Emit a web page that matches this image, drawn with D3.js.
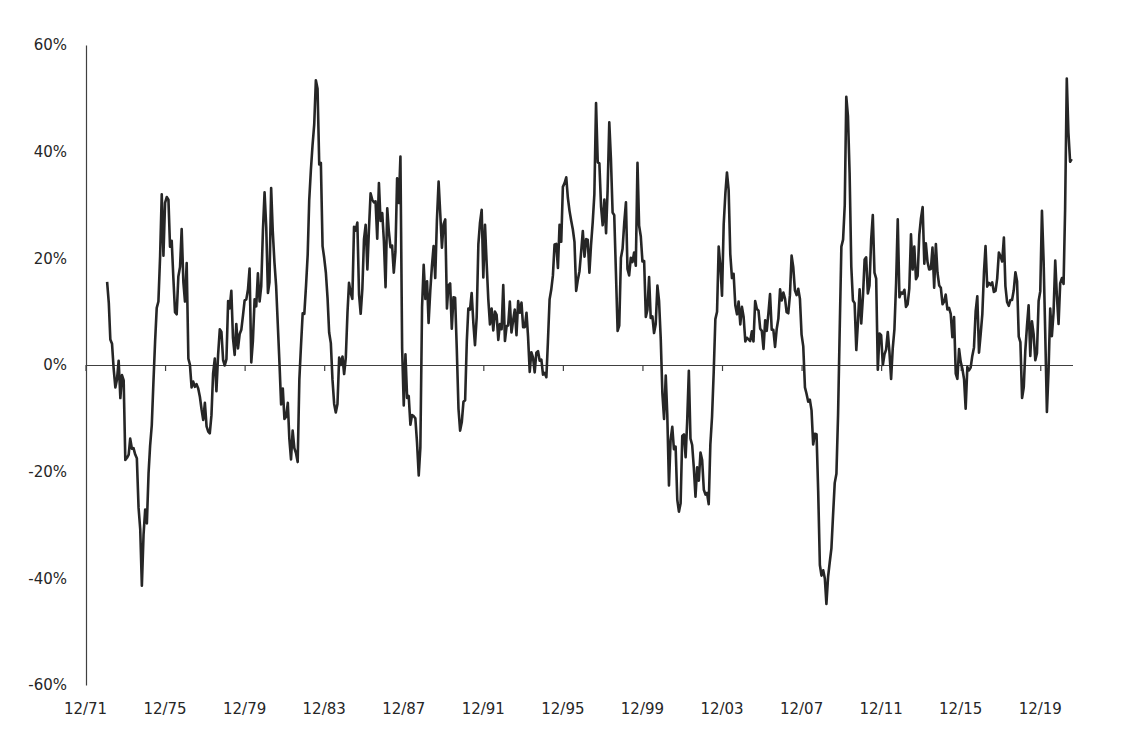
<!DOCTYPE html>
<html><head><meta charset="utf-8">
<script src="https://cdn.jsdelivr.net/npm/d3@7"></script>
<style>html,body{margin:0;padding:0;background:#fff;} svg{display:block;} text{font-family:"DejaVu Sans",Verdana,sans-serif;}</style>
</head><body><svg id="chart" width="1126" height="746"></svg>
<script>
// First observation: trailing 12-month return at month-end December 1972
const firstMonth = "1972-12";
// Trailing 12-month return, %, one value per month
const returns = [
15.6,
11.6,4.8,4.0,-0.7,-4.2,-2.7,0.8,-6.2,-1.9,-2.9,-17.8,-17.4,
-16.8,-13.8,-15.7,-15.6,-16.8,-17.5,-26.7,-30.8,-41.4,-31.8,-27.1,-29.7,
-20.3,-15.2,-11.3,-3.3,4.4,10.7,11.9,20.4,32.0,20.5,30.4,31.5,
31.0,22.2,23.3,16.4,9.9,9.5,16.6,18.4,25.5,15.6,11.9,19.1,
1.2,0.1,-4.2,-3.1,-4.1,-3.6,-4.4,-6.0,-8.3,-10.3,-7.1,-11.5,
-12.5,-12.8,-9.4,-1.6,1.2,-4.9,1.9,6.7,6.2,0.9,-0.1,1.1,
12.0,10.6,13.9,5.1,1.9,7.7,3.1,5.8,6.6,9.3,12.1,12.3,
14.2,18.1,0.5,4.5,12.3,11.0,17.2,11.9,14.8,25.2,32.4,25.8,
13.5,15.5,33.2,25.0,19.2,14.9,7.6,0.3,-7.4,-4.4,-10.1,-9.7,
-7.1,-13.8,-17.7,-12.3,-15.6,-16.5,-18.2,-2.7,3.6,9.7,9.6,14.8,
20.7,30.9,36.6,41.2,45.1,53.4,51.8,37.6,37.9,22.3,20.1,17.3,
12.5,6.1,4.1,-2.7,-7.3,-8.9,-7.3,1.4,0.0,1.6,-1.7,1.4,
9.9,15.4,13.5,12.4,25.9,25.2,26.7,13.2,9.6,14.3,23.6,26.3,
17.9,25.2,32.2,31.0,30.5,30.7,23.7,34.1,27.0,28.5,23.3,14.6,
29.4,25.2,22.1,22.4,17.3,21.2,35.0,30.4,39.1,3.2,-7.6,2.0,
-6.2,-5.8,-11.2,-9.4,-9.6,-10.0,-14.6,-20.7,-15.5,10.8,18.8,12.4,
15.7,7.9,13.9,18.5,22.3,16.3,27.2,34.4,28.4,22.0,26.4,27.3,
10.6,14.9,15.3,6.8,12.7,12.6,2.9,-8.2,-12.3,-10.7,-6.9,-6.6,
4.5,10.6,10.4,13.5,7.9,3.7,8.9,22.6,26.7,29.1,16.4,26.3,
18.9,12.4,7.6,10.6,6.5,10.0,9.4,4.7,7.7,6.7,15.0,4.5,
7.3,7.4,11.9,6.1,8.4,10.4,5.6,12.0,9.8,11.7,7.1,7.1,
9.8,5.4,-1.3,2.4,1.4,-1.4,2.3,2.6,0.8,1.0,-1.8,-1.5,
-2.3,4.3,12.3,14.1,16.8,22.6,22.7,18.2,26.3,23.1,33.4,34.1,
35.2,31.4,28.9,27.1,25.4,23.1,13.9,16.0,17.6,21.3,25.1,20.3,
23.6,23.5,17.3,22.5,26.8,32.0,49.1,38.0,37.8,29.7,26.2,31.0,
24.7,32.7,45.5,38.7,28.6,28.1,17.4,6.4,7.4,20.1,21.8,26.7,
30.5,18.0,16.8,20.1,19.3,21.1,18.6,37.9,26.1,24.1,19.4,19.5,
9.0,10.3,16.5,8.8,9.1,6.0,7.7,14.9,12.0,4.9,-5.3,-10.1,
-2.0,-9.3,-22.6,-14.0,-11.6,-15.8,-15.3,-25.3,-27.5,-25.9,-13.3,-13.0,
-17.3,-10.7,-1.1,-13.8,-15.0,-19.2,-24.7,-19.2,-21.7,-16.4,-17.8,-23.4,
-24.3,-24.0,-26.1,-14.9,-9.7,-1.5,8.6,10.0,22.2,18.6,13.0,26.4,
32.2,36.1,32.8,20.8,16.3,17.1,11.2,9.5,11.9,7.6,10.9,9.0,
4.4,5.1,4.8,4.5,6.3,4.4,12.0,10.5,10.2,6.8,6.4,3.0,
8.4,6.4,9.7,13.3,6.6,6.6,3.4,6.8,8.7,14.2,12.1,13.6,
12.4,9.9,9.7,13.1,20.5,18.4,14.0,13.1,14.3,12.4,5.7,3.5,
-4.2,-5.4,-6.9,-6.5,-8.5,-14.9,-12.9,-13.0,-23.6,-37.5,-39.5,-38.5,
-40.1,-44.8,-39.7,-37.0,-34.4,-28.2,-22.1,-20.4,-9.4,7.0,22.2,23.5,
30.0,50.3,46.6,36.0,18.5,12.1,11.6,2.8,8.0,14.2,7.8,12.8,
19.8,20.2,13.4,14.9,23.5,28.1,17.3,16.2,-0.9,5.9,5.6,0.0,
2.0,2.9,6.2,2.5,-2.6,3.1,6.7,15.4,27.3,12.7,13.6,13.4,
14.1,10.9,11.4,14.3,24.5,17.9,22.2,16.1,16.7,24.4,27.5,29.6,
19.0,22.8,19.3,17.9,18.0,22.0,14.5,22.7,17.3,14.9,14.5,11.4,
11.9,13.2,10.4,10.7,9.6,5.2,9.0,-1.6,-2.6,3.0,0.6,-0.7,
-2.7,-8.2,-0.4,-1.0,-0.5,1.7,3.3,10.1,12.9,2.3,5.7,9.5,
17.5,22.3,14.7,15.4,15.0,15.5,13.7,13.9,16.2,21.1,20.4,19.4,
23.9,14.8,11.8,11.1,12.2,12.2,14.0,17.4,15.7,5.3,4.3,-6.2,
-4.2,2.6,7.3,11.2,1.7,8.2,5.8,0.9,2.2,12.0,13.8,28.9,
19.3,6.1,-8.8,-1.1,10.6,5.4,9.8,19.6,13.0,7.7,15.3,16.3,
15.2,29.0,53.7,43.6,38.1,38.6
];
const xTickLabels = ["12/71","12/75","12/79","12/83","12/87","12/91","12/95","12/99","12/03","12/07","12/11","12/15","12/19"];
const yTicks = [-60,-40,-20,0,20,40,60];
const axisEnd = "2021-07-15";

const svg = d3.select("#chart");
const parseYM = d3.timeParse("%Y-%m");
const parseTick = d3.timeParse("%m/%y");
// month-end values sit at the start of the following month
const start = d3.timeMonth.offset(parseYM(firstMonth), 1);
const data = returns.map((v, i) => ({date: d3.timeMonth.offset(start, i), value: v}));
const tickDates = xTickLabels.map(s => parseTick(s));

const x = d3.scaleTime().domain([tickDates[0], d3.timeParse("%Y-%m-%d")(axisEnd)]).range([85.5, 1072.5]);
const y = d3.scaleLinear().domain([-60, 60]).range([685, 45]);

const axisColor = "#404040";
const textColor = "#262626";

// Y axis
const gy = svg.append("g").attr("transform", "translate(86,0)")
  .call(d3.axisLeft(y).tickValues(yTicks).tickFormat(d => d + "%").tickSize(0).tickSizeOuter(0).tickPadding(19));
gy.select(".domain").attr("stroke", axisColor).attr("stroke-width", 1.2);
gy.selectAll("text").attr("fill", textColor).style("font-size", "15px").style("font-family", "'DejaVu Sans', Verdana, sans-serif");

// Zero line with ticks
const gx = svg.append("g").attr("transform", `translate(0,${y(0)})`)
  .call(d3.axisBottom(x).tickValues(tickDates).tickSize(6).tickSizeOuter(0).tickFormat(""));
gx.select(".domain").attr("stroke", axisColor).attr("stroke-width", 1.2);
gx.selectAll(".tick line").attr("stroke", axisColor).attr("stroke-width", 1.2);

// X labels at bottom
svg.append("g").selectAll("text").data(tickDates).join("text")
  .attr("x", d => x(d)).attr("y", 714)
  .attr("text-anchor", "middle")
  .attr("fill", textColor)
  .style("font-size", "15px")
  .text((d, i) => xTickLabels[i]);

// Series line
svg.append("path").datum(data)
  .attr("fill", "none")
  .attr("stroke", "#262626")
  .attr("stroke-width", 2.6)
  .attr("stroke-linejoin", "round")
  .attr("d", d3.line().x(d => x(d.date)).y(d => y(d.value)));
</script></body></html>
